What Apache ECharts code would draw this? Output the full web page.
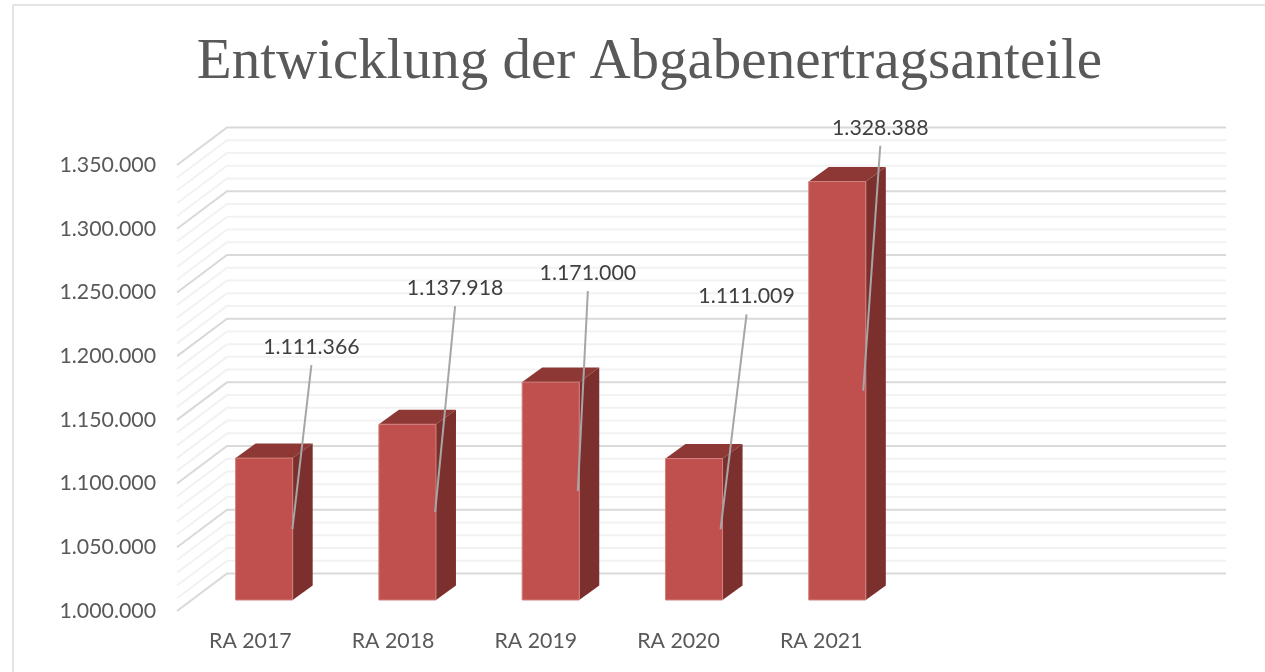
<!DOCTYPE html>
<html><head><meta charset="utf-8">
<style>html,body{margin:0;padding:0;background:#fff}#c{width:1265px;height:672px}</style>
<script src="https://cdn.jsdelivr.net/npm/echarts@6/dist/echarts.min.js"></script>
</head><body><div id="c"></div>
<script>
const titleText = 'Entwicklung der Abgabenertragsanteile';
const categories = ['RA 2017','RA 2018','RA 2019','RA 2020','RA 2021'];
const emptySlots = ['',''];
const values = [1111366,1137918,1171000,1111009,1328388];
const valueLabels = ['1.111.366','1.137.918','1.171.000','1.111.009','1.328.388'];
const axisMin = 1000000, axisMax = 1350000, majorStep = 50000, minorStep = 10000;

// drawing settings
const wall = {dx:50, dy:-37.5};
const barPlane = {dx:15.5, dy:-11, stretch:1.004};
const barDepth = {dx:20, dy:-14.5};
const barShare = 0.4;
const calloutDx = [19,20,10,26,17], calloutDy = [-182,-224,-218,-233,-263];
const labelFont = '21.3px Lato';

const gridTicks = [];
for (let v = axisMin; v <= axisMax; v += minorStep) gridTicks.push(v);

function renderWall(params, api){
  const v = api.value(0), cs = params.coordSys;
  const p = api.coord([0, v]);
  const major = (v - axisMin) % majorStep === 0;
  return {type:'polyline', silent:true, shape:{points:[
      [cs.x, p[1]], [cs.x + wall.dx, p[1] + wall.dy], [cs.x + cs.width + wall.dx, p[1] + wall.dy]
    ]},
    style:{fill:'none', stroke: major ? '#d9d9d9' : '#f2f2f2', lineWidth:2}};
}
function barBox(params, api){
  const cs = params.coordSys;
  const i = api.value(0), v = api.value(1);
  const w = api.size([1,0])[0] * barShare;
  const c = api.coord([i, v]), b = api.coord([i, axisMin]);
  const L = cs.x + (c[0] - cs.x) * barPlane.stretch + barPlane.dx - w/2;
  return {i, L, R:L + w, w, T:c[1] + barPlane.dy, B:b[1] + barPlane.dy, tipX:c[0] + barPlane.dx + w/2};
}
function renderBar(params, api){
  const {L,R,w,T,B} = barBox(params, api);
  const d = barDepth;
  return {type:'group', children:[
    {type:'polygon', shape:{points:[[L,T],[L+d.dx,T+d.dy],[R+d.dx,T+d.dy],[R,T]]}, style:{fill:'#8e3836'}},
    {type:'polygon', shape:{points:[[R,T],[R+d.dx,T+d.dy],[R+d.dx,B+d.dy],[R,B]]}, style:{fill:'#7c302e'}},
    {type:'rect', shape:{x:L,y:T,width:w,height:B-T}, style:{fill:'#c0504d', stroke:'#d0807d', lineWidth:1}}
  ]};
}
function renderCallout(params, api){
  const {i,tipX,T,B} = barBox(params, api);
  const tipY = (T + B)/2;
  const lx = tipX + calloutDx[i], ly = tipY + calloutDy[i];
  return {type:'group', children:[
    {type:'line', shape:{x1:tipX,y1:tipY,x2:lx,y2:ly+18}, style:{stroke:'#a6a6a6', lineWidth:2}},
    {type:'text', style:{x:lx,y:ly,text:valueLabels[i],font:labelFont,fill:'#404040',align:'center',verticalAlign:'middle'}}
  ]};
}
const barData = values.map((v,i)=>[i,v]);
const chart = echarts.init(document.getElementById('c'), null, {renderer:'canvas'});
chart.setOption({
  animation:false,
  backgroundColor:'#fff',
  title:{text:titleText, left:644.5, top:30, textAlign:'center',
    textStyle:{fontFamily:'Liberation Serif', fontSize:57, fontWeight:'normal', color:'#595959'}},
  graphic:[{type:'rect', silent:true, z:-1, shape:{x:13,y:5,width:1400,height:800},
    style:{fill:'none', stroke:'#dcdcdc', lineWidth:1.5}}],
  grid:{left:177, top:165, width:999, height:446},
  xAxis:{type:'category', data:categories.concat(emptySlots), axisLine:{show:false}, axisTick:{show:false},
    axisLabel:{interval:0, margin:20, padding:[0,0,0,4], fontFamily:'Lato', fontSize:21.3, color:'#595959'}},
  yAxis:{type:'value', min:axisMin, max:axisMax, interval:majorStep, axisLine:{show:false}, axisTick:{show:false},
    splitLine:{show:false},
    axisLabel:{margin:21, padding:[4,0,0,0], fontFamily:'Lato', fontSize:21.3, color:'#595959',
      formatter:v=>String(v).replace(/\B(?=(\d{3})+$)/g,'.')}},
  series:[
    {type:'custom', name:'wall', clip:false, z:1, silent:true, data:gridTicks.map(v=>[v]), encode:{y:0}, renderItem:renderWall},
    {type:'custom', name:'bars', clip:false, z:2, silent:true, data:barData, encode:{x:0,y:1}, renderItem:renderBar},
    {type:'custom', name:'labels', clip:false, z:3, silent:true, data:barData, encode:{x:0,y:1}, renderItem:renderCallout}
  ]
});
</script></body></html>
